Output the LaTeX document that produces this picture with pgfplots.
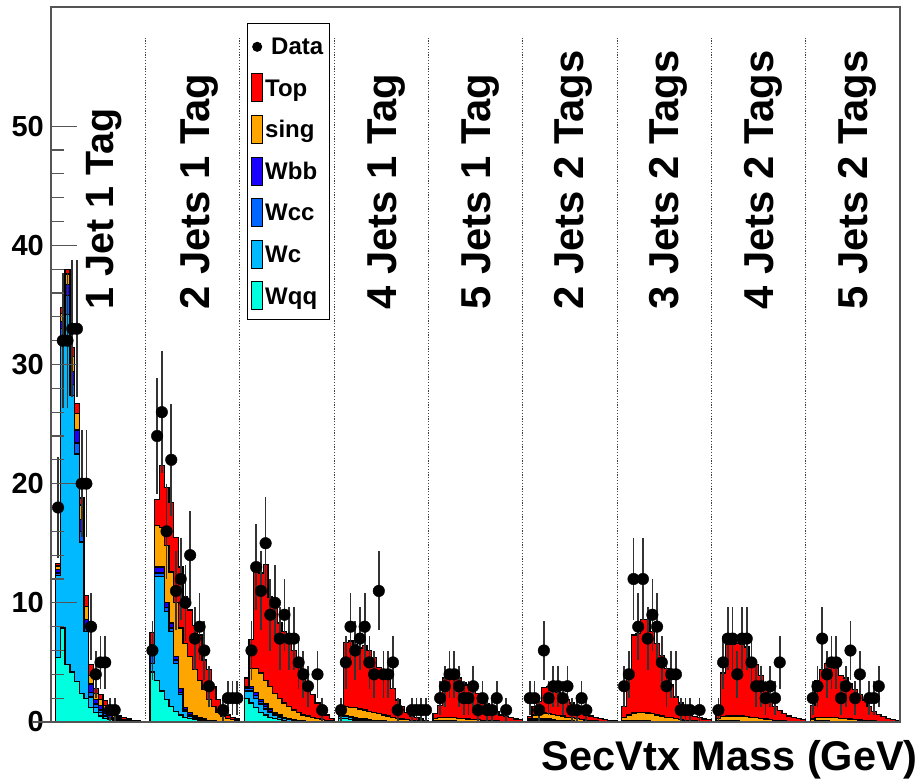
\documentclass[border=0pt]{standalone}
\usepackage{fontspec}
\setmainfont{Liberation Sans}
\usepackage{pgfplots}
\usepackage{pgfplotstable}
\pgfplotsset{compat=1.18}

\definecolor{cTop}{RGB}{255,0,0}
\definecolor{cSing}{RGB}{255,165,0}
\definecolor{cWbb}{RGB}{25,0,255}
\definecolor{cWcc}{RGB}{0,102,255}
\definecolor{cWc}{RGB}{0,185,255}
\definecolor{cWqq}{RGB}{0,255,222}
\definecolor{frame}{RGB}{85,85,85}

% Cumulative stack heights per bin (20 bins per jet/tag category).
% q = Wqq, c = +Wc, cc = +Wcc, bb = +Wbb, s = +single top, t = +top pairs
\pgfplotstableread{
x q c cc bb s t
0 0 0 0 0 0 0
1 5.4 12.3 12.5 12.8 13.1 13.3
2 7.9 32.2 33.0 33.6 34.3 34.8
3 4.8 34.2 35.8 36.7 37.6 38.0
4 4.2 27.4 28.3 29.4 30.7 31.4
5 3.4 22.5 23.4 24.5 25.9 26.7
6 2.4 15.1 16.0 17.0 18.2 18.8
7 2.0 7.6 8.0 8.6 9.7 10.6
8 1.2 2.1 2.5 3.2 3.9 4.8
9 0.8 1.2 1.5 1.9 2.4 2.8
10 0.5 0.8 1.0 1.4 1.9 2.3
11 0.3 0.5 0.7 1.0 1.4 1.8
12 0.2 0.3 0.4 0.6 0.9 1.2
13 0.1 0.2 0.3 0.4 0.6 0.8
14 0.05 0.1 0.15 0.25 0.35 0.5
15 0.03 0.06 0.1 0.15 0.22 0.35
16 0 0.04 0.06 0.1 0.15 0.25
17 0 0.02 0.04 0.06 0.1 0.15
18 0 0 0.02 0.04 0.06 0.1
19 0 0 0 0.02 0.03 0.05
20 0 0 0 0 0 0
21 4.2 4.9 6.2 6.4 6.5 7.5
22 3.5 12.2 12.5 13.0 16.5 18.7
23 2.6 12.2 12.5 13.0 16.3 21.5
24 1.9 9.3 9.6 10.0 14.8 19.7
25 1.3 7.6 7.9 8.3 12.6 18.4
26 0.9 4.9 5.2 5.5 10.0 15.5
27 0.6 2.3 2.5 2.8 7.9 13.0
28 0.4 0.9 1.0 1.2 6.6 10.5
29 0.3 0.5 0.6 0.8 5.5 9.4
30 0.2 0.3 0.4 0.5 4.4 8.1
31 0.1 0.2 0.25 0.35 3.5 7.3
32 0.05 0.1 0.15 0.25 2.7 5.2
33 0.03 0.05 0.1 0.15 1.9 4.4
34 0 0.03 0.05 0.1 1.3 3.0
35 0 0 0.03 0.06 0.8 1.9
36 0 0 0 0.04 0.5 1.0
37 0 0 0 0.02 0.3 0.6
38 0 0 0 0 0.2 0.35
39 0 0 0 0 0.1 0.25
40 0 0 0 0 0 0
41 2.0 2.6 2.8 2.9 3.0 3.7
42 1.6 2.6 2.8 3.0 4.5 6.9
43 1.2 2.0 2.2 2.5 4.5 12.9
44 0.8 1.5 1.7 1.9 4.1 12.5
45 0.6 1.1 1.3 1.5 3.5 13.2
46 0.4 0.8 0.9 1.1 3.0 10.5
47 0.3 0.6 0.7 0.8 2.4 10.0
48 0.2 0.4 0.5 0.6 2.0 8.3
49 0.1 0.3 0.35 0.4 1.6 7.6
50 0.05 0.2 0.25 0.3 1.3 7.2
51 0 0.15 0.18 0.2 1.0 6.0
52 0 0.1 0.12 0.15 0.8 5.2
53 0 0.06 0.08 0.1 0.6 4.1
54 0 0.03 0.04 0.05 0.5 3.0
55 0 0 0 0.03 0.4 2.3
56 0 0 0 0 0.3 1.6
57 0 0 0 0 0.2 1.0
58 0 0 0 0 0.15 0.6
59 0 0 0 0 0.1 0.3
60 0 0 0 0 0 0
61 0.3 0.45 0.5 0.55 0.7 1.4
62 0.3 0.45 0.5 0.55 1.3 6.7
63 0.2 0.35 0.4 0.45 1.2 6.8
64 0.15 0.25 0.3 0.35 1.2 6.5
65 0.1 0.2 0.25 0.3 1.1 6.2
66 0.08 0.15 0.2 0.25 1.0 6.4
67 0.05 0.1 0.15 0.2 0.9 6.0
68 0.03 0.08 0.1 0.15 0.8 5.4
69 0 0.05 0.08 0.1 0.7 4.6
70 0 0.03 0.05 0.08 0.6 4.4
71 0 0 0.03 0.05 0.5 4.3
72 0 0 0 0.03 0.4 2.8
73 0 0 0 0 0.3 1.85
74 0 0 0 0 0.25 1.3
75 0 0 0 0 0.2 0.8
76 0 0 0 0 0.15 0.5
77 0 0 0 0 0.1 0.35
78 0 0 0 0 0.08 0.25
79 0 0 0 0 0.05 0.15
80 0 0 0 0 0 0
81 0.05 0.1 0.12 0.15 0.3 0.7
82 0.05 0.1 0.12 0.15 0.4 1.4
83 0.04 0.08 0.1 0.12 0.4 3.7
84 0.03 0.06 0.08 0.1 0.4 4.1
85 0.02 0.05 0.06 0.08 0.35 4.0
86 0.01 0.04 0.05 0.06 0.3 3.7
87 0 0.03 0.04 0.05 0.3 3.3
88 0 0.02 0.03 0.04 0.25 3.1
89 0 0 0.02 0.03 0.2 2.8
90 0 0 0 0.02 0.2 2.4
91 0 0 0 0 0.15 1.85
92 0 0 0 0 0.12 1.5
93 0 0 0 0 0.1 1.15
94 0 0 0 0 0.08 0.87
95 0 0 0 0 0.06 0.6
96 0 0 0 0 0.05 0.45
97 0 0 0 0 0.04 0.35
98 0 0 0 0 0.03 0.25
99 0 0 0 0 0.02 0.2
100 0 0 0 0 0 0
101 0.05 0.1 0.15 0.2 0.3 0.45
102 0.08 0.15 0.2 0.3 0.6 1.3
103 0.08 0.15 0.2 0.3 0.7 1.7
104 0.06 0.12 0.18 0.3 0.75 2.9
105 0.05 0.1 0.15 0.25 0.7 3.0
106 0.04 0.08 0.12 0.2 0.65 2.9
107 0.03 0.06 0.1 0.15 0.55 2.5
108 0.02 0.05 0.08 0.12 0.5 2.1
109 0 0.04 0.06 0.1 0.4 1.9
110 0 0.03 0.04 0.08 0.35 1.6
111 0 0 0.02 0.05 0.3 1.3
112 0 0 0 0.03 0.2 0.9
113 0 0 0 0 0.15 0.6
114 0 0 0 0 0.1 0.5
115 0 0 0 0 0.08 0.35
116 0 0 0 0 0.06 0.3
117 0 0 0 0 0.04 0.2
118 0 0 0 0 0.03 0.15
119 0 0 0 0 0.02 0.1
120 0 0 0 0 0 0
121 0.03 0.06 0.08 0.1 0.4 1.3
122 0.04 0.08 0.1 0.12 0.6 3.9
123 0.04 0.08 0.1 0.12 0.75 7.3
124 0.03 0.06 0.08 0.1 0.8 7.45
125 0.03 0.06 0.08 0.1 0.8 8.6
126 0.02 0.05 0.06 0.08 0.75 8.6
127 0.02 0.04 0.05 0.06 0.7 7.6
128 0.01 0.03 0.04 0.05 0.6 6.6
129 0 0.02 0.03 0.04 0.5 5.6
130 0 0 0.02 0.03 0.4 4.5
131 0 0 0 0.02 0.35 3.1
132 0 0 0 0 0.3 2.1
133 0 0 0 0 0.2 1.6
134 0 0 0 0 0.15 1.15
135 0 0 0 0 0.1 0.7
136 0 0 0 0 0.08 0.45
137 0 0 0 0 0.06 0.35
138 0 0 0 0 0.04 0.25
139 0 0 0 0 0.03 0.2
140 0 0 0 0 0 0
141 0.02 0.04 0.06 0.08 0.3 1.3
142 0.03 0.06 0.08 0.1 0.45 4.1
143 0.03 0.06 0.08 0.1 0.5 6.5
144 0.02 0.05 0.07 0.1 0.5 6.5
145 0.02 0.04 0.06 0.08 0.5 6.6
146 0.01 0.03 0.05 0.07 0.5 6.5
147 0 0.03 0.04 0.06 0.45 6.3
148 0 0.02 0.03 0.05 0.4 5.3
149 0 0 0.02 0.04 0.35 4.8
150 0 0 0 0.03 0.3 3.9
151 0 0 0 0.02 0.25 2.7
152 0 0 0 0 0.2 1.7
153 0 0 0 0 0.15 1.3
154 0 0 0 0 0.1 0.95
155 0 0 0 0 0.08 0.73
156 0 0 0 0 0.06 0.5
157 0 0 0 0 0.05 0.4
158 0 0 0 0 0.04 0.3
159 0 0 0 0 0.03 0.2
160 0 0 0 0 0 0
161 0.02 0.04 0.05 0.07 0.25 1.4
162 0.02 0.05 0.07 0.09 0.35 3.5
163 0.02 0.05 0.07 0.09 0.4 4.4
164 0.02 0.04 0.06 0.08 0.4 4.9
165 0.01 0.03 0.05 0.07 0.4 4.9
166 0 0.03 0.04 0.06 0.35 4.5
167 0 0.02 0.03 0.05 0.3 3.9
168 0 0 0.02 0.04 0.3 3.7
169 0 0 0 0.03 0.25 3.2
170 0 0 0 0.02 0.2 2.7
171 0 0 0 0 0.18 2.3
172 0 0 0 0 0.15 1.85
173 0 0 0 0 0.1 1.3
174 0 0 0 0 0.08 0.9
175 0 0 0 0 0.06 0.65
176 0 0 0 0 0.05 0.45
177 0 0 0 0 0.04 0.3
178 0 0 0 0 0.03 0.2
179 0 0 0 0 0.02 0.15
180 0 0 0 0 0 0
}\stack

% Observed events per bin (bin centres)
\pgfplotstableread{
x n
1.5 18
2.5 32
3.5 32
4.5 33
5.5 33
6.5 20
7.5 20
8.5 8
9.5 4
10.5 5
11.5 5
12.5 1
13.5 1
21.5 6
22.5 24
23.5 26
24.5 16
25.5 22
26.5 11
27.5 12
28.5 10
29.5 14
30.5 7
31.5 8
32.5 6
33.5 3
36.5 1
37.5 2
38.5 2
39.5 2
42.5 6
43.5 13
44.5 11
45.5 15
46.5 9
47.5 10
48.5 7
49.5 9
50.5 7
51.5 7
52.5 5
53.5 4
54.5 3
56.5 4
57.5 1
61.5 1
62.5 5
63.5 8
64.5 6
65.5 7
66.5 8
67.5 5
68.5 4
69.5 11
70.5 4
71.5 4
72.5 5
73.5 1
76.5 1
77.5 1
78.5 1
79.5 1
82.5 2
83.5 3
84.5 4
85.5 4
86.5 3
87.5 2
88.5 2
89.5 3
90.5 1
91.5 2
92.5 1
93.5 1
94.5 2
96.5 1
101.5 2
102.5 2
103.5 1
104.5 6
105.5 2
106.5 3
107.5 3
108.5 2
109.5 3
110.5 1
111.5 1
112.5 2
113.5 1
121.5 3
122.5 4
123.5 12
124.5 8
125.5 12
126.5 7
127.5 9
128.5 8
129.5 5
130.5 3
131.5 4
132.5 4
133.5 1
134.5 1
135.5 1
137.5 1
141.5 1
142.5 5
143.5 7
144.5 7
145.5 4
146.5 7
147.5 7
148.5 5
149.5 3
150.5 3
151.5 2
152.5 3
153.5 2
154.5 5
161.5 2
162.5 3
163.5 7
164.5 4
165.5 5
166.5 5
167.5 2
168.5 3
169.5 6
170.5 2
171.5 4
173.5 2
174.5 2
175.5 3
}\events

\newcommand{\legfont}{\bfseries\fontsize{24}{24}\selectfont}
\newcommand{\catfont}{\bfseries\fontsize{41.8}{41.8}\selectfont}

\begin{document}
\begin{tikzpicture}
\path[use as bounding box] (0pt,0pt) rectangle (921pt,780pt);
\begin{axis}[
  at={(51pt,58pt)}, anchor=south west,
  scale only axis, width=849pt, height=715pt,
  xmin=0, xmax=180, ymin=0, ymax=60,
  xtick=\empty,
  ytick={0,10,20,30,40,50},
  minor y tick num=4,
  ytick pos=left,
  tick align=inside,
  major tick length=26pt, minor tick length=13pt,
  tick style={frame, line width=1.3pt},
  axis line style={frame, line width=1.8pt},
  axis on top,
  /pgf/number format/assume math mode=true,
  yticklabel style={font=\bfseries\fontsize{29}{29}\selectfont, inner sep=0pt, xshift=-7pt},
  legend style={at={(0.2305,0.9772)}, anchor=north west, draw=black, line width=1pt,
    fill=white, font=\legfont, inner xsep=4pt, inner ysep=9pt,
    row sep=12.6pt, column sep=2pt,
    nodes={inner sep=0pt, text height=22.2pt, text depth=5.8pt, text width=60pt}},
  legend cell align=left,
]
% category separators
\pgfplotsinvokeforeach{20,40,...,160}{
  \draw[dash pattern=on 1.2pt off 1.6pt, line width=1pt, black!75]
    (axis cs:#1,0) -- (axis cs:#1,57.4);
}

\addplot[forget plot, const plot, fill=cTop, draw=black, line width=1.3pt] table[x=x,y=t]{\stack} \closedcycle;
\addplot[forget plot, const plot, fill=cSing, draw=black, line width=1.3pt] table[x=x,y=s]{\stack} \closedcycle;
\addplot[forget plot, const plot, fill=cWbb, draw=black, line width=1.3pt] table[x=x,y=bb]{\stack} \closedcycle;
\addplot[forget plot, const plot, fill=cWcc, draw=black, line width=1.3pt] table[x=x,y=cc]{\stack} \closedcycle;
\addplot[forget plot, const plot, fill=cWc, draw=black, line width=1.3pt] table[x=x,y=c]{\stack} \closedcycle;
\addplot[forget plot, const plot, fill=cWqq, draw=black, line width=1.3pt] table[x=x,y=q]{\stack} \closedcycle;

\addplot[forget plot, only marks, mark=*, mark size=5.8pt, black,
  error bars/.cd, y dir=both, y explicit, error mark=none,
  error bar style={line width=1.7pt, black!80}]
  table[x=x, y=n, y error expr={sqrt(\thisrow{n})}]{\events};

\addlegendimage{legend image code/.code={\fill[black] (5.5pt,0pt) circle (4.5pt);}}
\addlegendentry{\hspace{6pt}Data}
\addlegendimage{legend image code/.code={\draw[fill=cTop, draw=black, line width=1pt] (0pt,-14pt) rectangle (11pt,14pt);}}
\addlegendentry{Top}
\addlegendimage{legend image code/.code={\draw[fill=cSing, draw=black, line width=1pt] (0pt,-14pt) rectangle (11pt,14pt);}}
\addlegendentry{sing}
\addlegendimage{legend image code/.code={\draw[fill=cWbb, draw=black, line width=1pt] (0pt,-14pt) rectangle (11pt,14pt);}}
\addlegendentry{Wbb}
\addlegendimage{legend image code/.code={\draw[fill=cWcc, draw=black, line width=1pt] (0pt,-14pt) rectangle (11pt,14pt);}}
\addlegendentry{Wcc}
\addlegendimage{legend image code/.code={\draw[fill=cWc, draw=black, line width=1pt] (0pt,-14pt) rectangle (11pt,14pt);}}
\addlegendentry{Wc}
\addlegendimage{legend image code/.code={\draw[fill=cWqq, draw=black, line width=1pt] (0pt,-14pt) rectangle (11pt,14pt);}}
\addlegendentry{Wqq}
\end{axis}

% baseline extension to the left of the y axis
\draw[frame, line width=1.8pt] (33pt,58pt) -- (51pt,58pt);

% category labels
\node[rotate=90, anchor=base west, inner sep=0pt, font=\bfseries\fontsize{39.5}{39.5}\selectfont]
  at (113pt,470pt) {1 Jet 1 Tag};
\foreach \xb/\txt in {209/{2 Jets 1 Tag}, 396/{4 Jets 1 Tag}, 490/{5 Jets 1 Tag},
                      583/{2 Jets 2 Tags}, 678/{3 Jets 2 Tags}, 773/{4 Jets 2 Tags}, 867/{5 Jets 2 Tags}}
  \node[rotate=90, anchor=base west, inner sep=0pt, font=\catfont] at (\xb pt,470pt) {\txt};

\node[anchor=base east, inner sep=0pt, font=\bfseries\fontsize{41.5}{41.5}\selectfont] at (918pt,10pt) {SecVtx Mass (GeV)};
\end{tikzpicture}
\end{document}
